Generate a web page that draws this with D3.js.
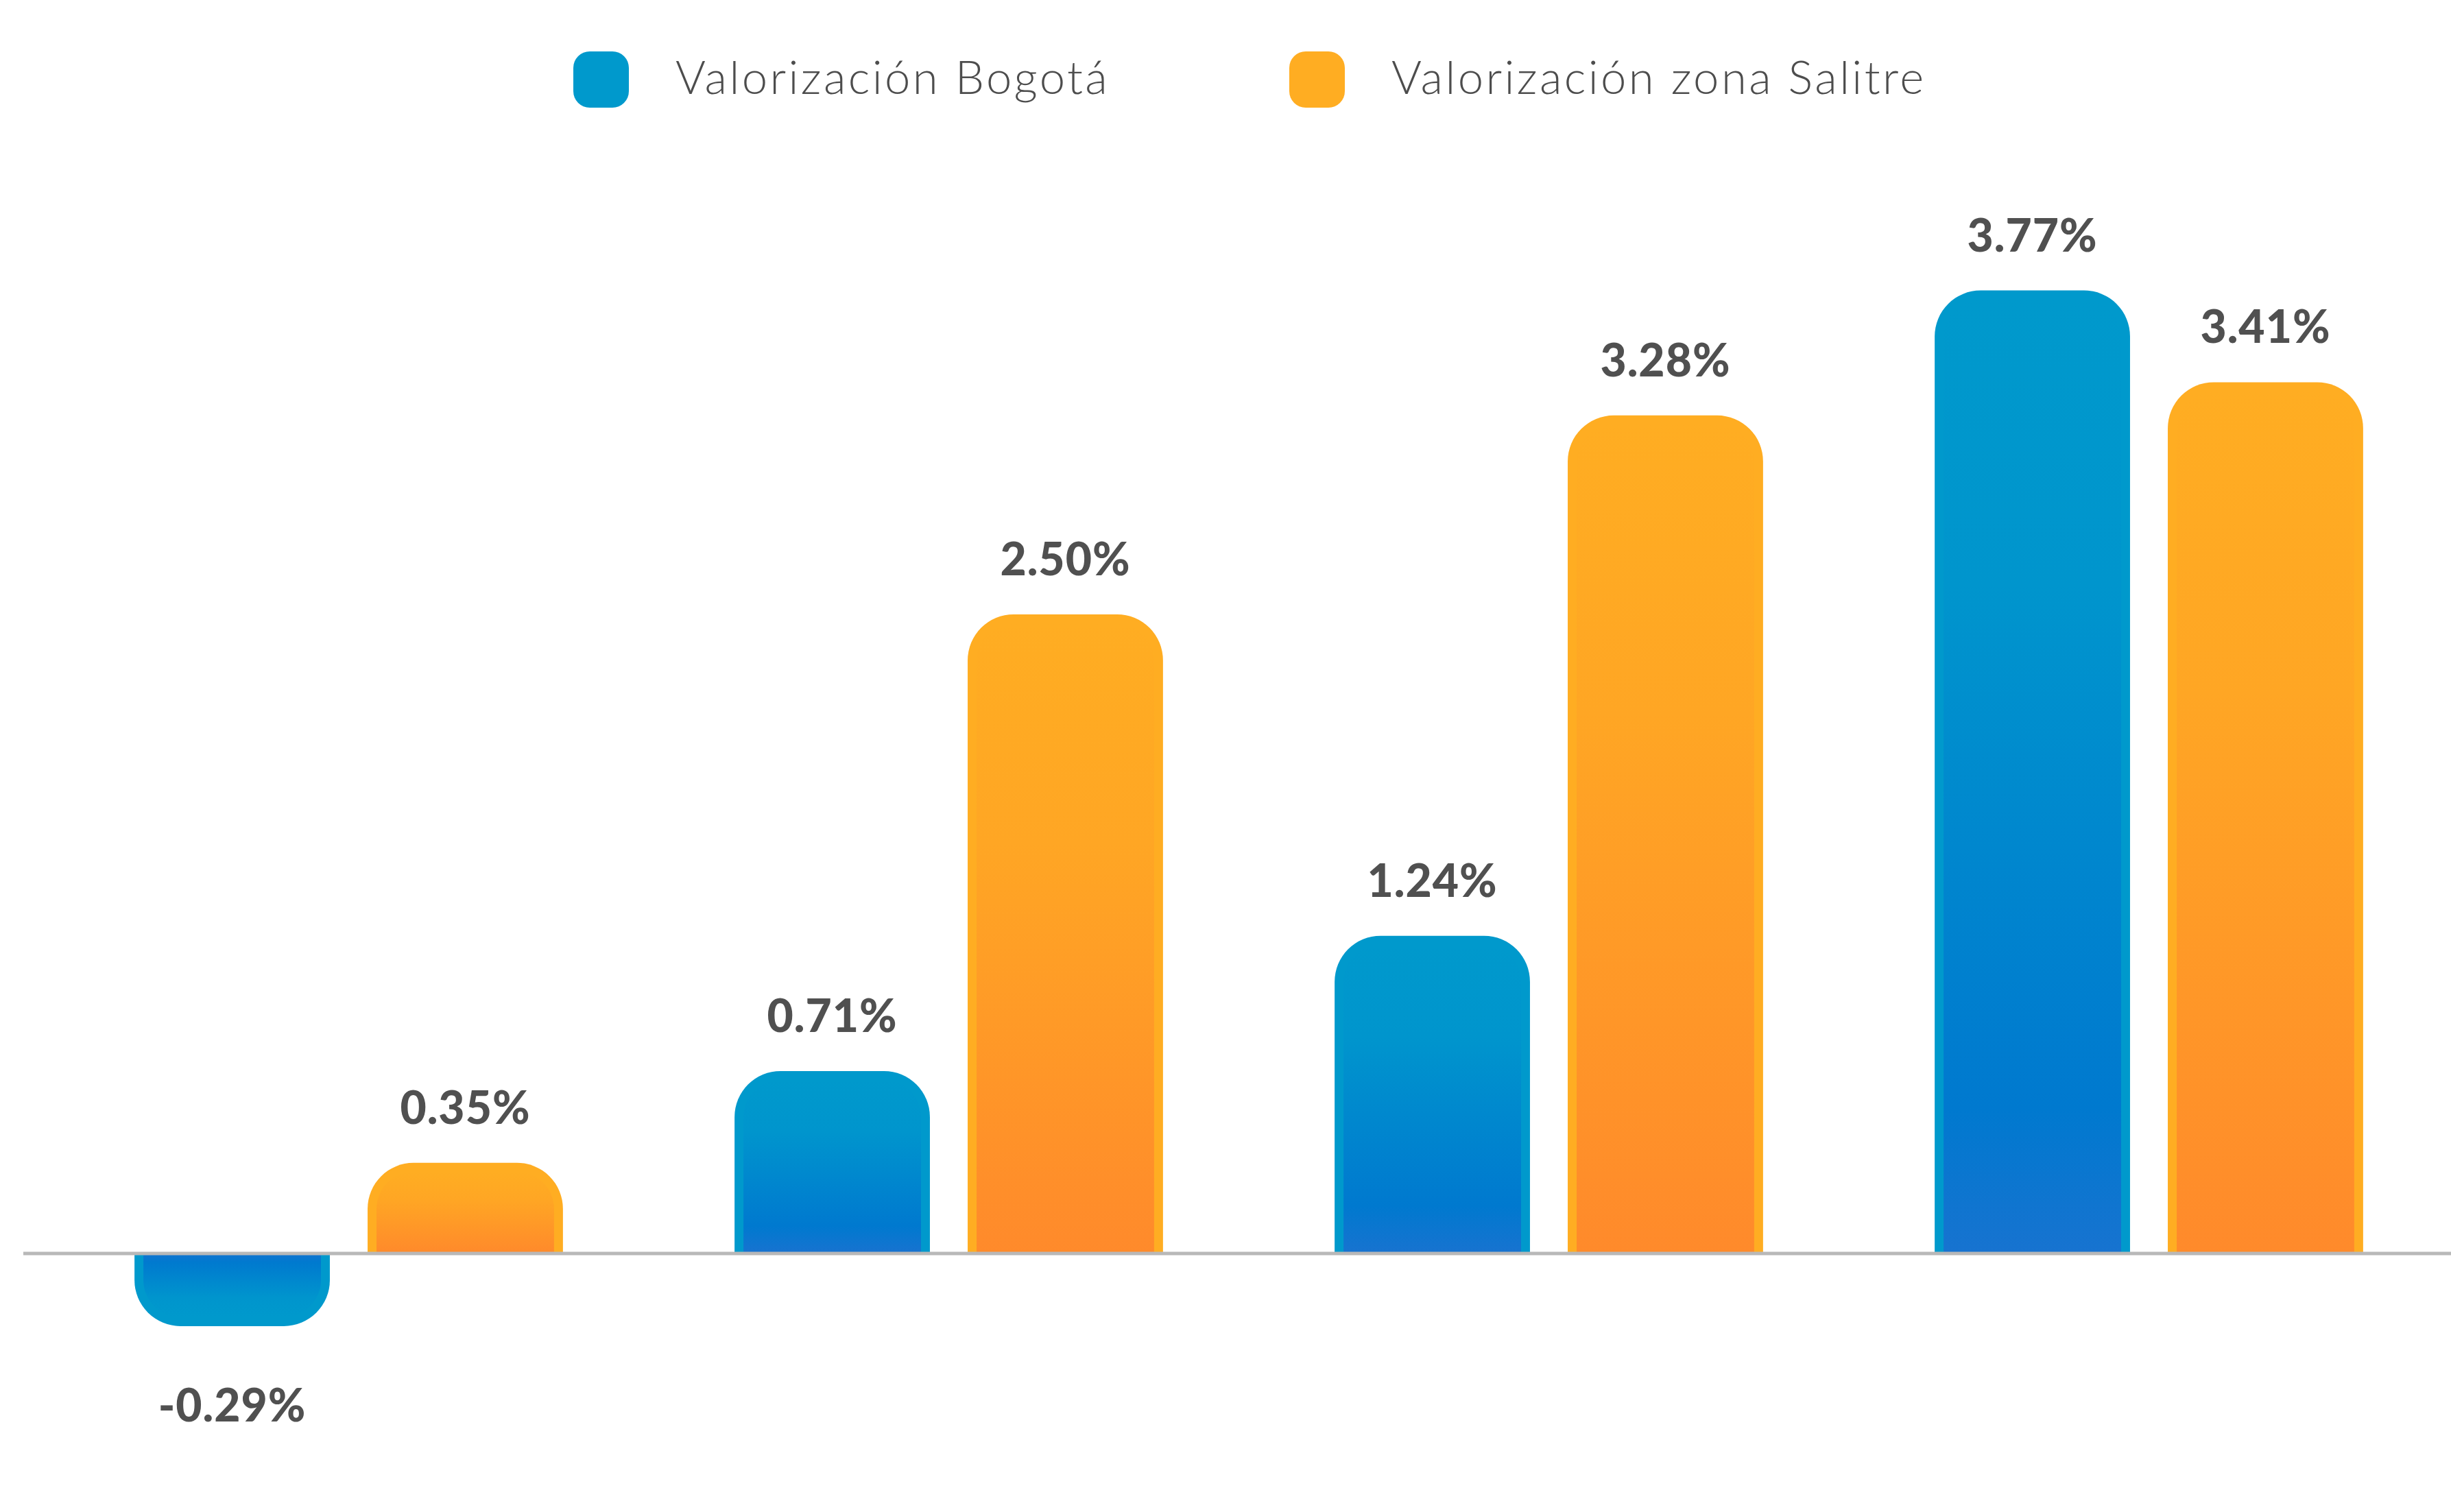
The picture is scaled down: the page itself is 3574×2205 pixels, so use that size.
<!DOCTYPE html>
<html>
<head>
<meta charset="utf-8">
<script src="https://cdn.jsdelivr.net/npm/d3@7/dist/d3.min.js"></script>
<style>
  html, body { margin: 0; padding: 0; background: #fff; }
  svg { display: block; }
</style>
</head>
<body>
<div id="chart"></div>
<script>
// data
const periods = ["Periodo 1", "Periodo 2", "Periodo 3", "Periodo 4"];
const seriesNames = ["Valorización Bogotá", "Valorización zona Salitre"];
const bogota = [-0.29, 0.71, 1.24, 3.77];
const salitre = [0.35, 2.50, 3.28, 3.41];

const W = 3574, H = 2205;
const svg = d3.select("#chart").append("svg")
  .attr("width", W).attr("height", H);

const defs = svg.append("defs");
// gradients: "up" for bars going up, "down" for bars going down
function addGrad(id, stops, flip) {
  const g = defs.append("linearGradient").attr("id", id)
    .attr("x1", 0).attr("y1", flip ? 1 : 0).attr("x2", 0).attr("y2", flip ? 0 : 1);
  stops.forEach(s => g.append("stop").attr("offset", s[0]).attr("stop-color", s[1]));
}
const blueStops = [[0, "#0099cc"], [0.3, "#0095cd"], [0.85, "#0079cf"], [1, "#1773d0"]];
const orangeStops = [[0, "#ffad22"], [0.35, "#ffa624"], [1, "#ff8a2b"]];
addGrad("blue-up", blueStops, false);
addGrad("blue-down", blueStops, true);
addGrad("orange-up", orangeStops, false);
addGrad("orange-down", orangeStops, true);

const outerColor = ["#0099cc", "#ffad22"];
const gradBase = ["blue", "orange"];

const x0 = d3.scaleBand().domain(periods).range([71, 3571])
  .paddingInner(0.286).paddingOuter(0.143);
const x1 = d3.scaleBand().domain([0, 1]).range([0, x0.bandwidth()])
  .paddingInner(0.162).paddingOuter(0);
const y = d3.scaleLinear().domain([-0.5, 4]).range([2012, 338]);

const rows = [];
periods.forEach((p, i) => {
  rows.push({ p: p, s: 0, v: bogota[i] });
  rows.push({ p: p, s: 1, v: salitre[i] });
});

function barPath(x, w, base, tip, r) {
  const h = Math.abs(tip - base);
  r = Math.max(0, Math.min(r, w / 2, h));
  if (tip < base) {
    return `M${x},${base}V${tip + r}A${r},${r} 0 0 1 ${x + r},${tip}H${x + w - r}A${r},${r} 0 0 1 ${x + w},${tip + r}V${base}Z`;
  }
  return `M${x},${base}V${tip - r}A${r},${r} 0 0 0 ${x + r},${tip}H${x + w - r}A${r},${r} 0 0 0 ${x + w},${tip - r}V${base}Z`;
}

const inset = 13, radius = 67;
const bars = svg.append("g").selectAll("g").data(rows).join("g");

bars.append("path")
  .attr("d", d => barPath(x0(d.p) + x1(d.s), x1.bandwidth(), y(0), y(d.v), radius))
  .attr("fill", d => outerColor[d.s]);

bars.append("path")
  .attr("d", d => {
    const up = d.v >= 0;
    const tip = up ? y(d.v) + inset : y(d.v) - inset;
    return barPath(x0(d.p) + x1(d.s) + inset, x1.bandwidth() - 2 * inset, y(0), tip, radius - inset);
  })
  .attr("fill", d => `url(#${gradBase[d.s]}-${d.v >= 0 ? "up" : "down"})`);

// value labels
bars.append("text")
  .attr("x", d => x0(d.p) + x1(d.s) + x1.bandwidth() / 2)
  .attr("y", d => d.v >= 0 ? y(d.v) - 57 : y(d.v) + 139)
  .attr("text-anchor", "middle")
  .attr("font-family", "Lato, 'Open Sans', sans-serif")
  .attr("font-weight", 900)
  .attr("font-size", 66)
  .attr("letter-spacing", 1)
  .attr("fill", "#505050")
  .text(d => d.v.toFixed(2) + "%");

// baseline
svg.append("line")
  .attr("x1", 34).attr("x2", W)
  .attr("y1", y(0) + 2).attr("y2", y(0) + 2)
  .attr("stroke", "#b8b8b8").attr("stroke-width", 5);

// legend
const legendX = [836, 1880];
const legend = svg.append("g").selectAll("g").data(seriesNames).join("g")
  .attr("transform", (d, i) => `translate(${legendX[i]},75)`);
legend.append("rect")
  .attr("width", 81).attr("height", 82).attr("rx", 24)
  .attr("fill", (d, i) => outerColor[i]);
legend.append("text")
  .attr("x", 149).attr("y", 62)
  .attr("font-family", "Lato, 'Open Sans', sans-serif")
  .attr("font-weight", 300)
  .attr("font-size", 67)
  .attr("letter-spacing", 3.4)
  .attr("fill", "#4d4d4d")
  .text(d => d);
</script>
</body>
</html>
